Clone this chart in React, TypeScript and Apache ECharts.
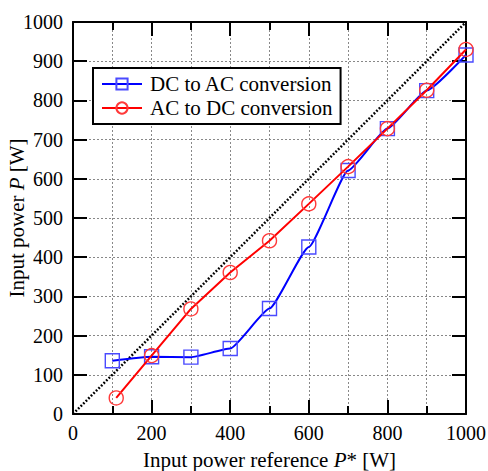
import React, { useEffect, useRef } from "react";
import * as echarts from "echarts";

const dcX = [100, 200, 300, 400, 500, 600, 700, 800, 900, 1000];
const dcY = [136, 146, 145, 167, 269, 426, 621, 728, 825, 916];
const acX = [110, 200, 300, 400, 500, 600, 700, 800, 900, 1000];
const acY = [41, 149, 268, 361, 442, 536, 631, 728, 826, 930];
const refX = [0, 1000];
const refY = [0, 1000];
const seriesNames = ["DC to AC conversion", "AC to DC conversion"];

const FONT = "'Liberation Serif', 'DejaVu Serif', serif";

export default function App() {
  const ref = useRef<HTMLDivElement>(null);
  useEffect(() => {
    document.body.style.margin = "0";
    const chart = echarts.init(ref.current!, null, { renderer: "svg" });
    const labelStyle = { color: "#000", fontSize: 20, fontFamily: FONT };
    const titleStyle = { color: "#000", fontSize: 21, fontFamily: FONT };
    const gridLine = { show: true, lineStyle: { color: "#888", type: [2, 2], width: 1 } };
    const fmt = (v: number) => String(v);
    const xBase: any = {
      type: "value",
      min: 0,
      max: 1000,
      interval: 200,
      axisLine: { show: true, onZero: false, lineStyle: { color: "#000", width: 2 } },
      axisTick: { show: true, inside: true, length: 14, lineStyle: { color: "#000", width: 2 } },
      minorTick: { show: true, splitNumber: 2, length: 8, lineStyle: { color: "#000", width: 2 } },
    };
    const yBase: any = {
      type: "value",
      min: 0,
      max: 1000,
      interval: 100,
      axisLine: { show: true, onZero: false, lineStyle: { color: "#000", width: 2 } },
      axisTick: { show: true, inside: true, length: 14, lineStyle: { color: "#000", width: 2 } },
    };
    chart.setOption({
      animation: false,
      backgroundColor: "#fff",
      textStyle: { fontFamily: FONT },
      grid: { left: 73, right: 22, top: 22, bottom: 57, outerBoundsMode: "none" },
      legend: {
        data: seriesNames,
        orient: "vertical",
        left: 93,
        top: 68,
        backgroundColor: "#fff",
        borderColor: "#000",
        borderWidth: 2,
        borderRadius: 0,
        padding: [5, 8, 5, 8],
        itemGap: 2,
        itemWidth: 40,
        itemHeight: 14,
        textStyle: { ...titleStyle, lineHeight: 22, padding: [0, 0, 0, 3] },
      },
      xAxis: [
        {
          ...xBase,
          position: "bottom",
          axisLabel: { ...labelStyle, margin: 9, formatter: fmt },
          splitLine: gridLine,
          minorSplitLine: gridLine,
          name: "{n|Input power reference }{i|P}{n|* [W]}",
          nameLocation: "middle",
          nameGap: 35,
          nameMoveOverlap: false,
          nameTextStyle: {
            fontFamily: FONT,
            fontSize: 21,
            rich: {
              n: { ...titleStyle },
              i: { ...titleStyle, fontStyle: "italic" },
            },
          },
        },
        { ...xBase, position: "top", axisLabel: { show: false }, splitLine: { show: false } },
      ],
      yAxis: [
        {
          ...yBase,
          position: "left",
          axisLabel: { ...labelStyle, margin: 10, formatter: fmt },
          splitLine: gridLine,
          name: "{n|Input power }{i|P}{n| [W]}",
          nameLocation: "middle",
          nameGap: 46,
          nameMoveOverlap: false,
          nameTextStyle: {
            fontFamily: FONT,
            fontSize: 21,
            rich: {
              n: { ...titleStyle },
              i: { ...titleStyle, fontStyle: "italic" },
            },
          },
        },
        { ...yBase, position: "right", axisLabel: { show: false }, splitLine: { show: false } },
      ],
      series: [
        {
          name: "reference",
          type: "line",
          data: refX.map((x, i) => [x, refY[i]]),
          showSymbol: false,
          symbol: "none",
          lineStyle: { color: "#000", width: 2.5, type: [1.8, 1.8] },
          z: 1,
        },
        {
          name: seriesNames[0],
          type: "line",
          data: dcX.map((x, i) => [x, dcY[i]]),
          smooth: 0.15,
          smoothMonotone: "x",
          symbol: "rect",
          symbolSize: 14,
          lineStyle: { color: "#0000ff", width: 2 },
          itemStyle: { color: "rgba(0,0,0,0)", borderColor: "#4a4aff", borderWidth: 1.4 },
          z: 3,
        },
        {
          name: seriesNames[1],
          type: "line",
          data: acX.map((x, i) => [x, acY[i]]),
          symbol: "circle",
          symbolSize: 14,
          lineStyle: { color: "#ff0000", width: 2 },
          itemStyle: { color: "rgba(0,0,0,0)", borderColor: "#ff3a3a", borderWidth: 1.4 },
          z: 4,
        },
      ],
    });
    return () => chart.dispose();
  }, []);
  return <div ref={ref} style={{ width: 488, height: 471 }} />;
}
